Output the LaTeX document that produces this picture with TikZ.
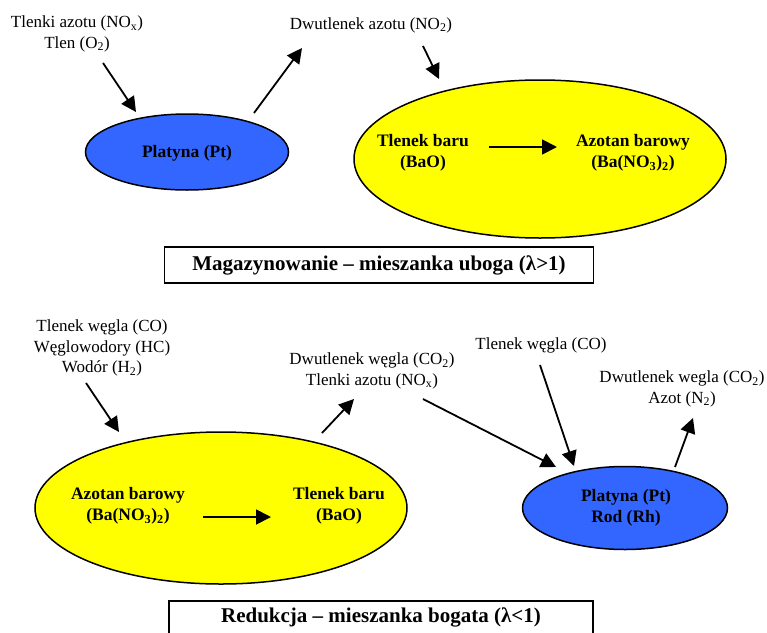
\documentclass[tikz,border=0pt]{standalone}
\usepackage{fontspec}
\setmainfont{Liberation Serif}
\usetikzlibrary{arrows.meta,shapes.geometric}
\definecolor{ptblue}{RGB}{51,102,255}
\definecolor{bayellow}{RGB}{255,255,0}
\begin{document}
\begin{tikzpicture}[x=1pt,y=-1pt,
  lbl/.style={font=\fontsize{17}{20.5}\selectfont, align=center, inner sep=0pt},
  blbl/.style={font=\fontsize{17.5}{20.5}\selectfont\bfseries, align=center, inner sep=0pt},
  oval/.style={ellipse, draw=black, line width=1.5pt, inner sep=0pt},
  arr/.style={line width=1.8pt, -{Triangle[length=15pt,width=15pt]}},
  captext/.style={font=\fontsize{21}{24}\selectfont\bfseries, inner sep=0pt},
  capbox/.style={draw=black, line width=1.6pt}]
\useasboundingbox (0,0) rectangle (767,632);
% ---------- top half ----------
\node[oval, fill=ptblue, minimum width=203pt, minimum height=76pt] (pt1) at (187,152) {};
\node[oval, fill=bayellow, minimum width=372pt, minimum height=158pt] (ba1) at (540,159) {};
\node[blbl] (pt1t) at (187,153) {Platyna (Pt)};
\node[blbl] (bao1) at (423,153) {Tlenek baru\\(BaO)};
\node[blbl] (ban1) at (633,153) {Azotan barowy\\(Ba(NO\textsubscript{3})\textsubscript{2})};
\node[lbl] (in1) at (77,34) {Tlenki azotu (NO\textsubscript{x})\\Tlen (O\textsubscript{2})};
\node[lbl] (no2) at (371,25) {Dwutlenek azotu (NO\textsubscript{2})};
\node[captext, capbox, minimum width=429pt, minimum height=36pt] (cap1) at (379,265) {Magazynowanie – mieszanka uboga (λ>1)};
\coordinate (a1s) at (103,63);  \coordinate (a1e) at (136,112);
\coordinate (a2s) at (254,113); \coordinate (a2e) at (302,48);
\coordinate (a3s) at (423,46);  \coordinate (a3e) at (439,79);
\coordinate (a4s) at (489,147); \coordinate (a4e) at (557,147);
\draw[arr] (a1s) -- (a1e);
\draw[arr] (a2s) -- (a2e);
\draw[arr] (a3s) -- (a3e);
\draw[arr] (a4s) -- (a4e);
% ---------- bottom half ----------
\node[oval, fill=bayellow, minimum width=372pt, minimum height=152pt] (ba2) at (221,508) {};
\node[oval, fill=ptblue, minimum width=205pt, minimum height=83pt] (pt2) at (625,508) {};
\node[blbl] (ban2) at (128,506) {Azotan barowy\\(Ba(NO\textsubscript{3})\textsubscript{2})};
\node[blbl] (bao2) at (339,506) {Tlenek baru\\(BaO)};
\node[blbl] (pt2t) at (626,508) {Platyna (Pt)\\Rod (Rh)};
\node[lbl] (in2) at (102,348) {Tlenek węgla (CO)\\Węglowodory (HC)\\Wodór (H\textsubscript{2})};
\node[lbl] (out2) at (372,371) {Dwutlenek węgla (CO\textsubscript{2})\\Tlenki azotu (NO\textsubscript{x})};
\node[lbl] (co2) at (541,345) {Tlenek węgla (CO)};
\node[lbl] (out3) at (682,389) {Dwutlenek wegla (CO\textsubscript{2})\\Azot (N\textsubscript{2})};
\draw[capbox] (169,601) rectangle (593,650);
\node[captext] (cap2) at (381,617) {Redukcja – mieszanka bogata (λ<1)};
\coordinate (b1s) at (86,383);  \coordinate (b1e) at (119,432);
\coordinate (b2s) at (322,433); \coordinate (b2e) at (354,399);
\coordinate (b3s) at (423,399); \coordinate (b3e) at (556,467);
\coordinate (b4s) at (540,365); \coordinate (b4e) at (574,466);
\coordinate (b5s) at (675,467); \coordinate (b5e) at (693,418);
\coordinate (b6s) at (203,517); \coordinate (b6e) at (271,517);
\draw[arr] (b1s) -- (b1e);
\draw[arr] (b2s) -- (b2e);
\draw[arr] (b3s) -- (b3e);
\draw[arr] (b4s) -- (b4e);
\draw[arr] (b5s) -- (b5e);
\draw[arr] (b6s) -- (b6e);
\end{tikzpicture}
\end{document}
